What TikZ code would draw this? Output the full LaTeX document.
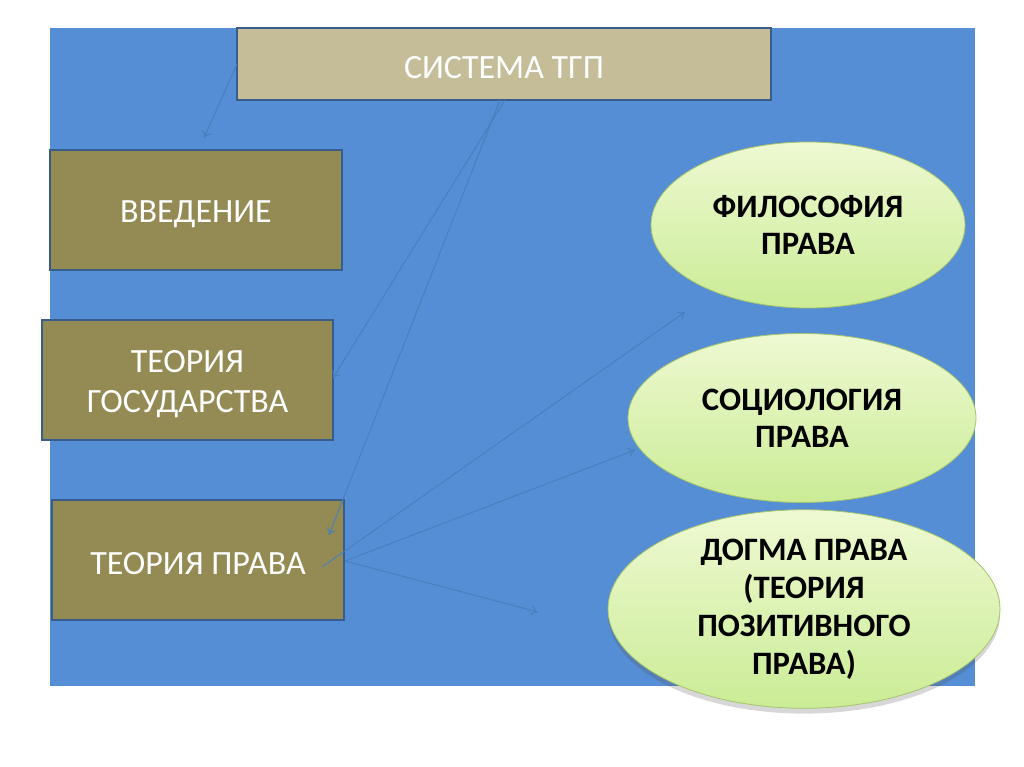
\documentclass[tikz,border=0pt]{standalone}
\usepackage{fontspec}
\setmainfont{Carlito}
\usetikzlibrary{shapes.geometric,shadows,arrows.meta}
\definecolor{bgblue}{HTML}{558ED5}
\definecolor{tan}{HTML}{C4BD97}
\definecolor{olive}{HTML}{948A54}
\definecolor{edgeblue}{HTML}{385D8A}
\definecolor{linkblue}{HTML}{4A7EBB}
\definecolor{ellborder}{HTML}{A6C46A}
\definecolor{elltop}{HTML}{EEF9D2}
\definecolor{ellmid}{HTML}{E6F6C0}
\definecolor{ellbot}{HTML}{CBEC96}
\newcommand{\lowtext}[1]{\raisebox{-3pt}[\height][\depth]{#1}}
\tikzset{
  topbox/.style={draw=edgeblue,line width=1.6pt,fill=tan,text=white,font=\fontsize{25.5}{30}\selectfont,inner sep=0pt},
  sidebox/.style={draw=edgeblue,line width=1.6pt,fill=olive,text=white,font=\fontsize{25.5}{30}\selectfont,align=center,inner sep=0pt},
  oval/.style={ellipse,draw=ellborder,line width=0.6pt,top color=elltop,middle color=ellmid,bottom color=ellbot,font=\bfseries\fontsize{24.5}{27.5}\selectfont,align=center,inner sep=0pt},
  link/.style={draw=linkblue,line width=0.7pt,-{To[length=5pt,width=7pt]}},
}
\begin{document}
\begin{tikzpicture}[x=0.75pt,y=-0.75pt]
\useasboundingbox (0,0) rectangle (1024,767);
\fill[white] (0,0) rectangle (1024,767);
\fill[bgblue] (50,28) rectangle (975,686);
% boxes
\node[topbox,minimum width=534*0.75pt,minimum height=72*0.75pt] (top) at (504,64) {\lowtext{СИСТЕМА ТГП}};
\node[sidebox,minimum width=292*0.75pt,minimum height=120*0.75pt] (vved) at (196,210) {\lowtext{ВВЕДЕНИЕ}};
\node[sidebox,minimum width=291*0.75pt,minimum height=120*0.75pt] (tgos) at (187.5,380) {\lowtext{\begin{tabular}{@{}c@{}}ТЕОРИЯ\\ГОСУДАРСТВА\end{tabular}}};
\node[sidebox,minimum width=292*0.75pt,minimum height=120*0.75pt] (tprav) at (198,560) {\lowtext{ТЕОРИЯ ПРАВА}};
% ellipses
\node[oval,minimum width=314*0.75pt,minimum height=166*0.75pt] (fil) at (808,225) {ФИЛОСОФИЯ\\ПРАВА};
\node[oval,minimum width=348*0.75pt,minimum height=169*0.75pt] (soc) at (802,418) {СОЦИОЛОГИЯ\\ПРАВА};
\node[oval,drop shadow={shadow xshift=0pt,shadow yshift=-4pt,opacity=0.22,fill=black!70},minimum width=392*0.75pt,minimum height=168*0.75pt,font=\bfseries\fontsize{24.5}{28.5}\selectfont] (dog) at (804,609) {ДОГМА ПРАВА\\(ТЕОРИЯ\\ПОЗИТИВНОГО\\ПРАВА)};
% connector anchors
\coordinate (a1s) at (237,64);
\coordinate (a1e) at (204,138);
\coordinate (a2s) at (505,100);
\coordinate (a2e) at (333,378);
\coordinate (a3s) at (500,100);
\coordinate (a3e) at (329,535);
\coordinate (a4s) at (322,567);
\coordinate (a4e) at (685,312);
\coordinate (a5s) at (345,561);
\coordinate (a5e) at (635,450);
\coordinate (a6e) at (538,612);
\draw[link] (a1s) -- (a1e);
\draw[link] (a2s) -- (a2e);
\draw[link] (a3s) -- (a3e);
\draw[link] (a4s) -- (a4e);
\draw[link] (a5s) -- (a5e);
\draw[link] (a5s) -- (a6e);
\end{tikzpicture}
\end{document}
